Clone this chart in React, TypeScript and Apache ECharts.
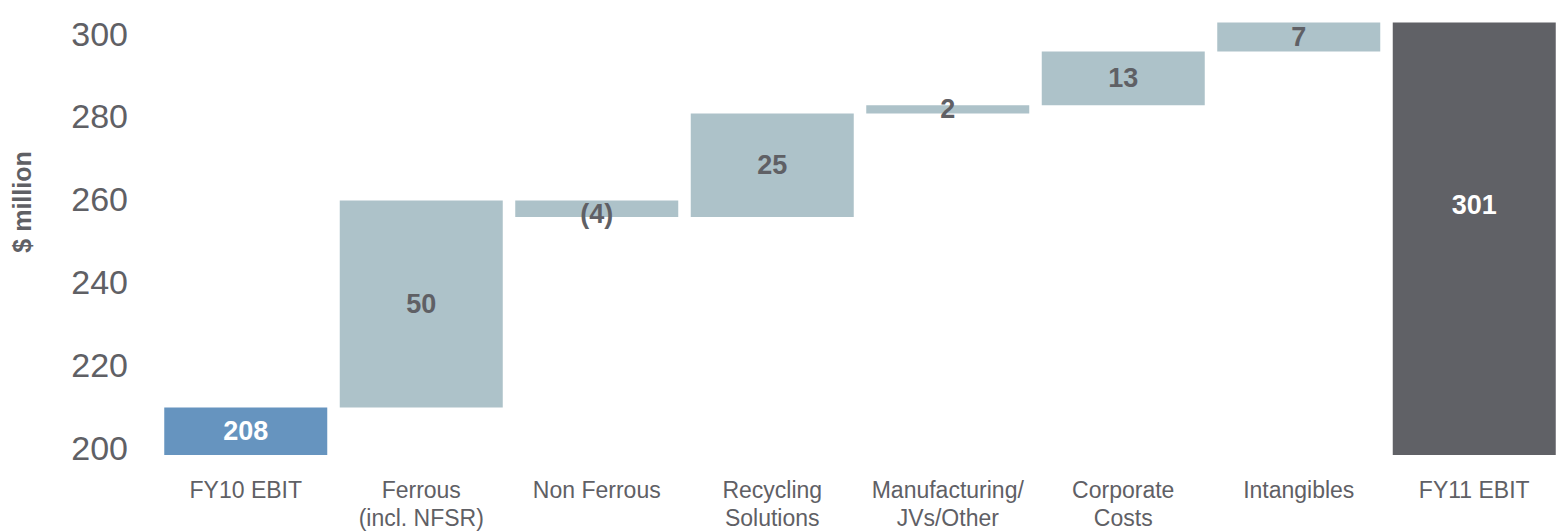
import React, { useEffect, useRef } from "react";
import * as echarts from "echarts";

const categories = [
  "FY10 EBIT",
  "Ferrous\n(incl. NFSR)",
  "Non Ferrous",
  "Recycling\nSolutions",
  "Manufacturing/\nJVs/Other",
  "Corporate\nCosts",
  "Intangibles",
  "FY11 EBIT",
];
const startValue = 208;
const changes = [50, -4, 25, 2, 13, 7];
const endValue = 301;
const yTickValues = [200, 220, 240, 260, 280, 300];
const AXIS_MIN = 196.5;
const AXIS_MAX = 304;

const COLOR_START = "#6694bf";
const COLOR_STEP = "#adc2c9";
const COLOR_END = "#606166";
const TEXT = "#5f6065";
const FONT = "Arial, 'Liberation Sans', Helvetica, sans-serif";

export default function App() {
  const ref = useRef<HTMLDivElement>(null);

  useEffect(() => {
    document.body.style.margin = "0";
    if (!ref.current) return;
    const chart = echarts.init(ref.current, undefined, { renderer: "svg" });

    const base: number[] = [AXIS_MIN];
    const heights: number[] = [startValue - AXIS_MIN];
    const labels: string[] = [String(startValue)];
    let running = startValue;
    changes.forEach((c) => {
      if (c >= 0) {
        base.push(running);
        heights.push(c);
        running += c;
        labels.push(String(c));
      } else {
        running += c;
        base.push(running);
        heights.push(-c);
        labels.push("(" + Math.abs(c) + ")");
      }
    });
    base.push(AXIS_MIN);
    heights.push(endValue - AXIS_MIN);
    labels.push(String(endValue));

    const last = heights.length - 1;
    const visible = heights.map((h, i) => {
      const isTotal = i === 0 || i === last;
      return {
        value: h,
        itemStyle: {
          color: i === 0 ? COLOR_START : i === last ? COLOR_END : COLOR_STEP,
        },
        label: {
          show: true,
          position: "inside",
          formatter: () => labels[i],
          color: isTotal ? "#ffffff" : TEXT,
          fontWeight: "bold",
          fontSize: 27,
          fontFamily: FONT,
          offset: i === last ? [0, -34] : i === 2 ? [0, 5] : [0, 0],
        },
      };
    });

    chart.setOption({
      animation: false,
      backgroundColor: "#ffffff",
      grid: { left: 158, width: 1412, top: 10, bottom: 72, containLabel: false },
      xAxis: {
        type: "category",
        data: categories,
        axisLine: { show: false },
        axisTick: { show: false },
        splitLine: { show: false },
        axisLabel: {
          interval: 0,
          margin: 21,
          color: TEXT,
          fontSize: 23,
          lineHeight: 28,
          fontFamily: FONT,
        },
      },
      yAxis: {
        type: "value",
        min: AXIS_MIN,
        max: AXIS_MAX,
        axisLine: { show: false },
        axisTick: { show: false },
        splitLine: { show: false },
        axisLabel: {
          customValues: yTickValues,
          margin: 30,
          color: TEXT,
          fontSize: 34,
          fontFamily: FONT,
          verticalAlign: "top",
          lineHeight: 14,
        },
      },
      graphic: [
        {
          type: "text",
          x: 22,
          y: 202,
          rotation: Math.PI / 2,
          style: {
            text: "$ million",
            fill: TEXT,
            font: "bold 25px " + FONT,
            align: "center",
            verticalAlign: "middle",
          },
        },
      ],
      series: [
        {
          type: "bar",
          stack: "w",
          barWidth: 163,
          silent: true,
          itemStyle: { color: "transparent" },
          emphasis: { disabled: true },
          data: base,
        },
        {
          type: "bar",
          stack: "w",
          barWidth: 163,
          emphasis: { disabled: true },
          data: visible,
        },
      ],
    });

    return () => chart.dispose();
  }, []);

  return <div ref={ref} style={{ width: 1562, height: 532 }} />;
}
